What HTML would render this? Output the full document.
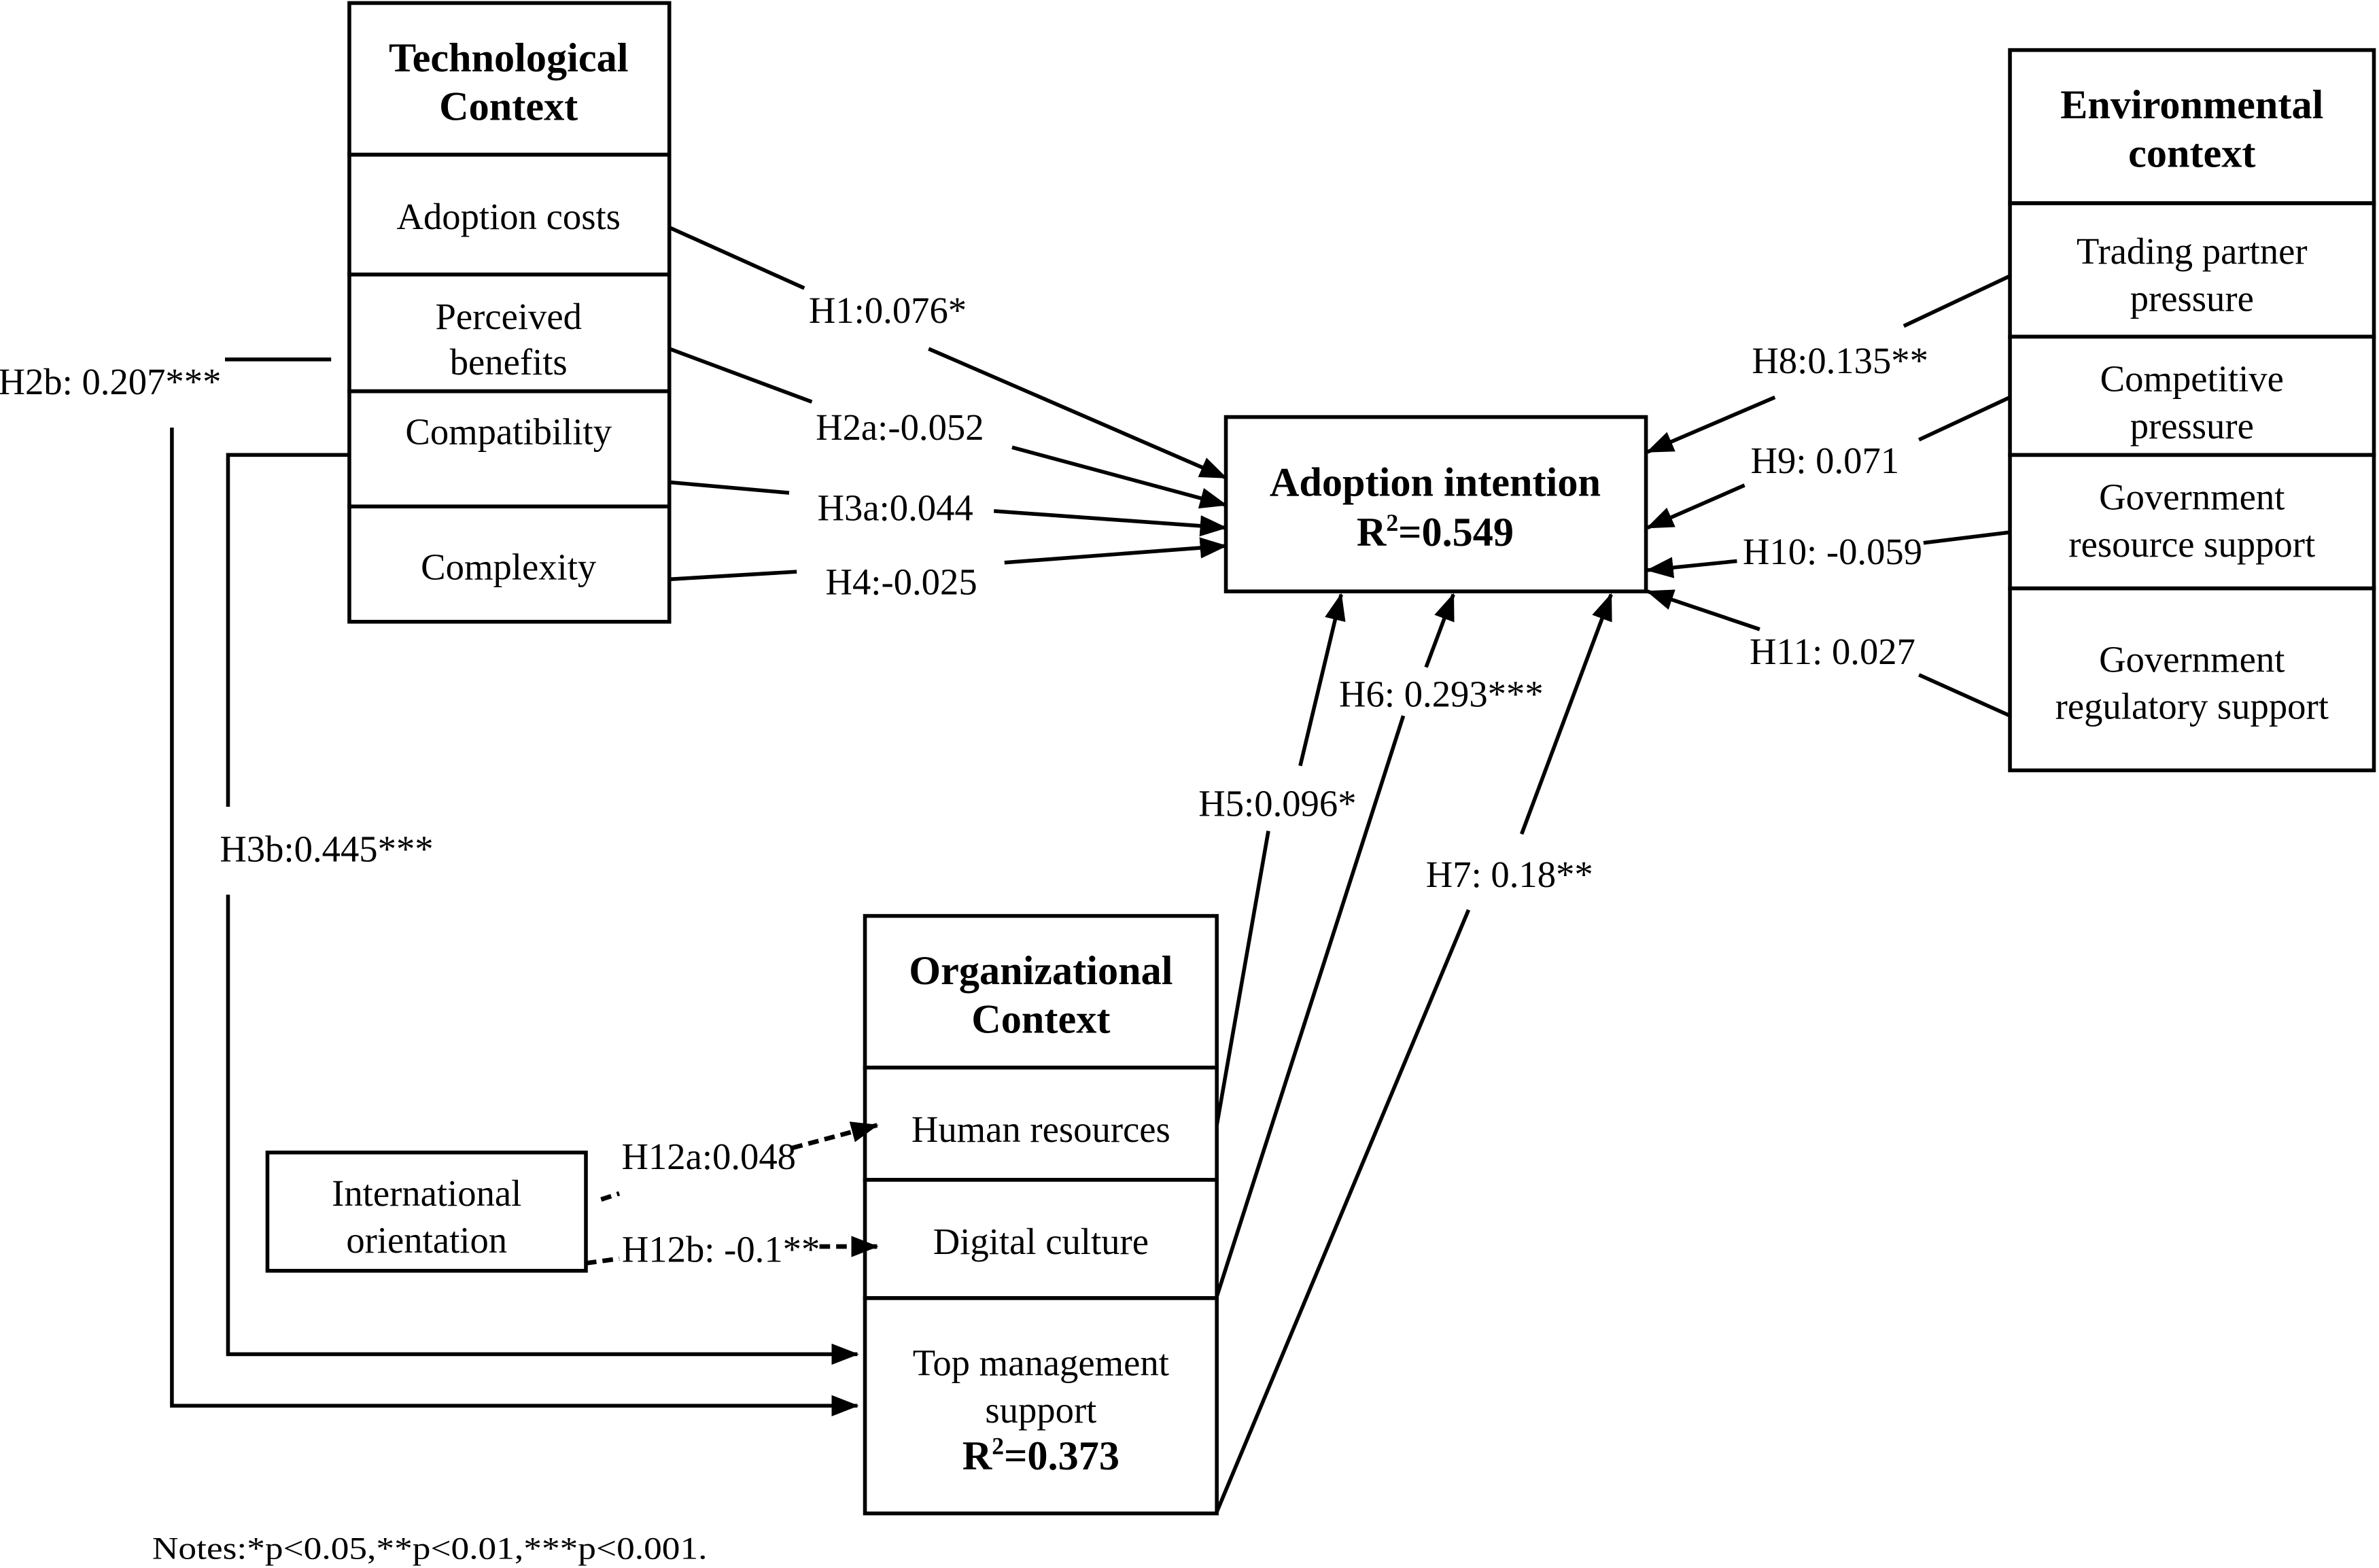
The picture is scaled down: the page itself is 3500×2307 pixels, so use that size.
<!DOCTYPE html>
<html><head><meta charset="utf-8"><style>html,body{margin:0;padding:0;background:#fff}svg{display:block}</style></head>
<body>
<svg width="3500" height="2307" viewBox="0 0 1568 1034" xmlns="http://www.w3.org/2000/svg" font-family="'Liberation Serif',serif" fill="#000">
<defs><marker id="b" markerWidth="18" markerHeight="14" refX="17" refY="7" orient="auto" markerUnits="userSpaceOnUse"><path d="M0,0L18,7L0,14z"/></marker></defs>
<g fill="none" stroke="#000" stroke-width="2.5">
<rect x="230" y="2" width="211" height="100"/>
<rect x="230" y="102" width="211" height="79"/>
<rect x="230" y="181" width="211" height="77"/>
<rect x="230" y="258" width="211" height="76"/>
<rect x="230" y="334" width="211" height="76"/>
<rect x="1325" y="33" width="240" height="101"/>
<rect x="1325" y="134" width="240" height="88"/>
<rect x="1325" y="222" width="240" height="78"/>
<rect x="1325" y="300" width="240" height="88"/>
<rect x="1325" y="388" width="240" height="120"/>
<rect x="808" y="275" width="277" height="115"/>
<rect x="570" y="604" width="232" height="100"/>
<rect x="570" y="704" width="232" height="74"/>
<rect x="570" y="778" width="232" height="78"/>
<rect x="570" y="856" width="232" height="142"/>
<rect x="176" y="760" width="210" height="78"/>
</g>
<g stroke="#000" stroke-width="2.5" fill="none">
<line x1="441" y1="150" x2="530" y2="190"/><line x1="612" y1="230" x2="808" y2="315" marker-end="url(#b)"/>
<line x1="441" y1="230" x2="535" y2="265"/><line x1="667" y1="295" x2="808" y2="333" marker-end="url(#b)"/>
<line x1="441" y1="318" x2="520" y2="325"/><line x1="655" y1="337" x2="808" y2="348" marker-end="url(#b)"/>
<line x1="441" y1="382" x2="525" y2="377"/><line x1="662" y1="371" x2="808" y2="360" marker-end="url(#b)"/>
<line x1="1325" y1="182" x2="1255" y2="215"/><line x1="1170" y1="262" x2="1086" y2="298" marker-end="url(#b)"/>
<line x1="1325" y1="262" x2="1265" y2="290"/><line x1="1150" y1="320" x2="1086" y2="348" marker-end="url(#b)"/>
<line x1="1325" y1="351" x2="1268" y2="358"/><line x1="1145" y1="370" x2="1086" y2="376" marker-end="url(#b)"/>
<line x1="1325" y1="472" x2="1265" y2="445"/><line x1="1160" y1="415" x2="1086" y2="390" marker-end="url(#b)"/>
<line x1="802" y1="742" x2="836" y2="548"/><line x1="857" y1="505" x2="884" y2="392" marker-end="url(#b)"/>
<line x1="802" y1="855" x2="925" y2="472"/><line x1="940" y1="440" x2="958" y2="392" marker-end="url(#b)"/>
<line x1="802" y1="997" x2="968" y2="600"/><line x1="1003" y1="550" x2="1062" y2="392" marker-end="url(#b)"/>
<line x1="148" y1="237" x2="218" y2="237"/>
<polyline points="113,282 113,927 565,927" marker-end="url(#b)"/>
<polyline points="230,300 150,300 150,532"/>
<polyline points="150,590 150,893 565,893" marker-end="url(#b)"/>
<g stroke-dasharray="7,4" stroke-width="3">
<line x1="396" y1="791" x2="408" y2="787"/>
<line x1="522" y1="757" x2="578" y2="742" marker-end="url(#b)"/>
<line x1="386" y1="833" x2="408" y2="830"/>
<line x1="540" y1="822" x2="578" y2="822" marker-end="url(#b)"/>
</g>
</g>
<g font-size="24.5" text-anchor="middle">
<text x="335" y="47" font-weight="bold" font-size="27">Technological</text>
<text x="335" y="79" font-weight="bold" font-size="27">Context</text>
<text x="335" y="151">Adoption costs</text>
<text x="335" y="217">Perceived</text><text x="335" y="247">benefits</text>
<text x="335" y="293">Compatibility</text>
<text x="335" y="382">Complexity</text>
<text x="1445" y="78" font-weight="bold" font-size="27">Environmental</text>
<text x="1445" y="110" font-weight="bold" font-size="27">context</text>
<text x="1445" y="174">Trading partner</text><text x="1445" y="205">pressure</text>
<text x="1445" y="258">Competitive</text><text x="1445" y="289">pressure</text>
<text x="1445" y="336">Government</text><text x="1445" y="367">resource support</text>
<text x="1445" y="443">Government</text><text x="1445" y="474">regulatory support</text>
<text x="946" y="327" font-weight="bold" font-size="27">Adoption intention</text>
<text x="946" y="360" font-weight="bold" font-size="27">R<tspan font-size="16" dy="-10">2</tspan><tspan dy="10">=0.549</tspan></text>
<text x="686" y="649" font-weight="bold" font-size="27">Organizational</text>
<text x="686" y="681" font-weight="bold" font-size="27">Context</text>
<text x="686" y="753">Human resources</text>
<text x="686" y="827">Digital culture</text>
<text x="686" y="907">Top management</text>
<text x="686" y="938">support</text>
<text x="686" y="969" font-weight="bold" font-size="27">R<tspan font-size="16" dy="-10">2</tspan><tspan dy="10">=0.373</tspan></text>
<text x="281" y="795">International</text><text x="281" y="826">orientation</text>
<text x="585" y="213">H1:0.076*</text>
<text x="593" y="290">H2a:-0.052</text>
<text x="590" y="343">H3a:0.044</text>
<text x="594" y="392">H4:-0.025</text>
<text x="1213" y="246">H8:0.135**</text>
<text x="1203" y="312">H9: 0.071</text>
<text x="1208" y="372">H10: -0.059</text>
<text x="1208" y="438">H11: 0.027</text>
<text x="842" y="538">H5:0.096*</text>
<text x="950" y="466">H6: 0.293***</text>
<text x="995" y="585">H7: 0.18**</text>
<text x="72" y="260">H2b: 0.207***</text>
<text x="215" y="568">H3b:0.445***</text>
<text x="467" y="771">H12a:0.048</text>
<text x="475" y="832">H12b: -0.1**</text>
<text x="100" y="1028" font-size="21" text-anchor="start" textLength="366" lengthAdjust="spacingAndGlyphs">Notes:*p&lt;0.05,**p&lt;0.01,***p&lt;0.001.</text>
</g>
</svg>
</body></html>
